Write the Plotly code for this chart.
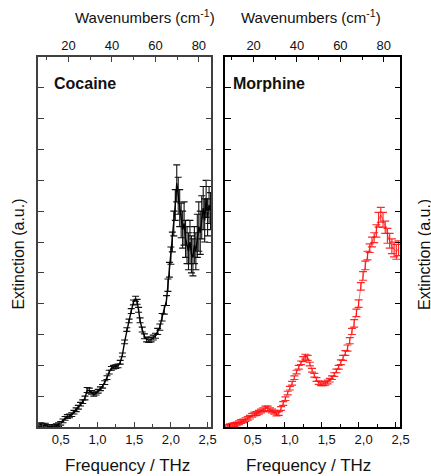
import plotly.graph_objects as go

# ---------------- data ----------------
cocaine_f = [0.20, 0.23, 0.26, 0.29, 0.32, 0.35, 0.38, 0.41, 0.44, 0.47,
             0.50, 0.53, 0.56, 0.59, 0.62, 0.65, 0.68, 0.71, 0.74, 0.77,
             0.80, 0.83, 0.86, 0.89, 0.92, 0.95, 0.98, 1.01, 1.04, 1.07,
             1.10, 1.13, 1.16, 1.19, 1.22, 1.25, 1.28, 1.31, 1.34, 1.37,
             1.40, 1.43, 1.46, 1.49, 1.52, 1.54, 1.56, 1.58, 1.61, 1.64,
             1.67, 1.70, 1.73, 1.76, 1.79, 1.82, 1.85, 1.88, 1.91, 1.94,
             1.96, 1.98, 2.00, 2.02, 2.04, 2.06, 2.08, 2.10, 2.12, 2.14,
             2.16, 2.18, 2.20, 2.22, 2.24, 2.26, 2.28, 2.30, 2.32, 2.34,
             2.36, 2.38, 2.40, 2.42, 2.44, 2.46, 2.48, 2.50, 2.52, 2.54]
cocaine_ext = [0.03, 0.04, 0.02, 0.03, 0.01, 0.00, 0.01, 0.01, 0.02, 0.04,
               0.06, 0.10, 0.14, 0.17, 0.18, 0.20, 0.24, 0.28, 0.32, 0.37,
               0.41, 0.47, 0.60, 0.59, 0.56, 0.53, 0.55, 0.58, 0.62, 0.66,
               0.72, 0.80, 0.89, 0.95, 0.97, 0.98, 0.99, 1.05, 1.17, 1.38,
               1.58, 1.72, 1.88, 2.02, 2.08, 2.03, 1.90, 1.73, 1.58, 1.47,
               1.42, 1.41, 1.42, 1.45, 1.48, 1.55, 1.62, 1.78, 1.90, 2.05,
               2.30, 2.55, 2.78, 3.00, 3.30, 3.60, 3.95, 3.75, 3.55, 3.35,
               3.20, 3.30, 3.05, 2.95, 2.85, 3.00, 2.80, 2.75, 2.95, 2.85,
               3.10, 3.25, 3.15, 3.40, 3.55, 3.35, 3.70, 3.40, 3.60, 3.50]
cocaine_err = [0.03, 0.03, 0.03, 0.03, 0.03, 0.03, 0.03, 0.03, 0.03, 0.03,
               0.03, 0.03, 0.03, 0.03, 0.03, 0.03, 0.03, 0.03, 0.03, 0.03,
               0.03, 0.03, 0.04, 0.04, 0.03, 0.03, 0.03, 0.03, 0.03, 0.03,
               0.03, 0.03, 0.03, 0.03, 0.03, 0.03, 0.03, 0.03, 0.03, 0.03,
               0.03, 0.03, 0.04, 0.04, 0.04, 0.04, 0.04, 0.04, 0.04, 0.04,
               0.04, 0.04, 0.04, 0.04, 0.04, 0.05, 0.05, 0.06, 0.07, 0.08,
               0.10, 0.12, 0.14, 0.16, 0.20, 0.25, 0.30, 0.30, 0.30, 0.28,
               0.30, 0.35, 0.30, 0.30, 0.30, 0.35, 0.30, 0.30, 0.30, 0.30,
               0.35, 0.40, 0.35, 0.35, 0.35, 0.35, 0.30, 0.30, 0.30, 0.30]

morphine_f = [0.20, 0.23, 0.26, 0.29, 0.32, 0.35, 0.38, 0.41, 0.44, 0.47,
              0.50, 0.53, 0.56, 0.59, 0.62, 0.65, 0.68, 0.71, 0.74, 0.77,
              0.80, 0.83, 0.86, 0.89, 0.92, 0.95, 0.98, 1.01, 1.04, 1.07,
              1.10, 1.13, 1.16, 1.19, 1.22, 1.25, 1.28, 1.31, 1.34, 1.37,
              1.40, 1.43, 1.46, 1.49, 1.52, 1.55, 1.58, 1.61, 1.64, 1.67,
              1.70, 1.73, 1.76, 1.79, 1.82, 1.85, 1.88, 1.91, 1.94, 1.97,
              2.00, 2.03, 2.06, 2.09, 2.12, 2.15, 2.18, 2.21, 2.24, 2.27,
              2.30, 2.33, 2.36, 2.39, 2.42, 2.45, 2.48, 2.51, 2.54]
morphine_ext = [0.00, 0.01, 0.02, 0.03, 0.04, 0.05, 0.07, 0.09, 0.10, 0.12,
                0.14, 0.16, 0.19, 0.21, 0.22, 0.24, 0.26, 0.28, 0.30, 0.30,
                0.28, 0.26, 0.24, 0.21, 0.22, 0.30, 0.38, 0.46, 0.55, 0.63,
                0.71, 0.80, 0.89, 0.97, 1.04, 1.10, 1.14, 1.12, 1.02, 0.92,
                0.84, 0.77, 0.72, 0.70, 0.70, 0.71, 0.73, 0.76, 0.80, 0.85,
                0.91, 0.97, 1.05, 1.12, 1.20, 1.28, 1.40, 1.55, 1.68, 1.85,
                2.00, 2.28, 2.45, 2.62, 2.78, 2.90, 3.00, 3.07, 3.18, 3.36,
                3.44, 3.36, 3.24, 3.10, 3.02, 2.93, 2.88, 2.84, 2.90]
morphine_err = [0.03, 0.03, 0.03, 0.03, 0.03, 0.03, 0.03, 0.03, 0.03, 0.03,
                0.03, 0.03, 0.03, 0.03, 0.03, 0.03, 0.03, 0.03, 0.04, 0.04,
                0.03, 0.03, 0.03, 0.03, 0.03, 0.03, 0.03, 0.03, 0.03, 0.03,
                0.03, 0.03, 0.03, 0.03, 0.03, 0.04, 0.04, 0.04, 0.03, 0.03,
                0.03, 0.03, 0.03, 0.03, 0.03, 0.03, 0.03, 0.03, 0.03, 0.03,
                0.03, 0.03, 0.04, 0.04, 0.04, 0.05, 0.05, 0.05, 0.06, 0.06,
                0.06, 0.06, 0.07, 0.07, 0.07, 0.07, 0.08, 0.08, 0.10, 0.12,
                0.12, 0.12, 0.10, 0.12, 0.12, 0.12, 0.12, 0.12, 0.12]

THZ_TO_CM = 33.356

x_ticks_thz = [0.5, 1.0, 1.5, 2.0, 2.5]
x_ticklabels_thz = ["0,5", "1,0", "1,5", "2,0", "2,5"]
x_ticks_cm = [20, 40, 60, 80]

# ---------------- layout geometry ----------------
W, H = 431, 476
def px(x):
    return x / W
def py(y):
    return 1 - y / H

ydom = [py(427), py(57)]
FONT = "Arial, 'Liberation Sans', sans-serif"
TXT = "#111111"

fig = go.Figure()

fig.add_trace(go.Scatter(
    x=cocaine_f, y=cocaine_ext, xaxis="x", yaxis="y", mode="lines",
    line=dict(color="black", width=1.4),
    error_y=dict(type="data", array=cocaine_err, color="#111111", thickness=1.1, width=3.5),
    hoverinfo="skip", showlegend=False))
fig.add_trace(go.Scatter(
    x=[f * THZ_TO_CM for f in cocaine_f], y=cocaine_ext, xaxis="x2", yaxis="y",
    mode="markers", marker=dict(opacity=0), hoverinfo="skip", showlegend=False))

fig.add_trace(go.Scatter(
    x=morphine_f, y=morphine_ext, xaxis="x3", yaxis="y2", mode="lines",
    line=dict(color="rgba(255,0,0,0.55)", width=1),
    error_y=dict(type="data", array=morphine_err, color="rgba(255,20,20,0.9)",
                 thickness=1.2, width=4),
    hoverinfo="skip", showlegend=False))
fig.add_trace(go.Scatter(
    x=[f * THZ_TO_CM for f in morphine_f], y=morphine_ext, xaxis="x4", yaxis="y2",
    mode="markers", marker=dict(opacity=0), hoverinfo="skip", showlegend=False))


def xbottom(dom, rng, color, anchor, shift=0):
    return dict(domain=dom, range=rng, anchor=anchor, showline=True, linecolor=color,
                linewidth=1.6, mirror=False, ticks="inside", ticklen=5, tickwidth=1.2,
                tickcolor=color, tickvals=x_ticks_thz, ticktext=x_ticklabels_thz,
                minor=dict(dtick=0.25, tick0=0, ticks="inside", ticklen=3,
                           tickcolor=color, tickwidth=1.1),
                showgrid=False, zeroline=False, ticklabelshift=shift,
                tickfont=dict(family=FONT, size=13, color=TXT), fixedrange=True)


def xtop(rng, color, over, anchor):
    return dict(range=rng, overlaying=over, side="top", anchor=anchor, showline=True,
                linecolor=color, linewidth=1.6, ticks="inside", ticklen=5, tickwidth=1.2,
                tickcolor=color, tickvals=x_ticks_cm,
                minor=dict(dtick=10, tick0=0, ticks="inside", ticklen=3,
                           tickcolor=color, tickwidth=1.1),
                showgrid=False, zeroline=False,
                tickfont=dict(family=FONT, size=13, color=TXT), fixedrange=True)


def yax(color, anchor):
    return dict(domain=ydom, range=[0, 6], anchor=anchor, showline=True, linecolor=color,
                linewidth=1.6, mirror="allticks", ticks="inside", ticklen=6, tickwidth=1.2,
                tickcolor=color, dtick=1, tick0=0, showticklabels=False,
                minor=dict(dtick=0.5, tick0=0, ticks="inside", ticklen=3,
                           tickcolor=color, tickwidth=1.1),
                showgrid=False, zeroline=False, fixedrange=True)


left_col = "#404040"
right_col = "#000000"

fig.update_layout(
    width=W, height=H, autosize=False,
    margin=dict(l=0, r=0, t=0, b=0),
    paper_bgcolor="white", plot_bgcolor="white",
    separators=",.",
    showlegend=False,
    xaxis=xbottom([px(39), px(216)], [0.193, 2.553], left_col, "y"),
    xaxis2=xtop([6.1, 85.8], left_col, "x", "y"),
    yaxis=yax(left_col, "x"),
    xaxis3=xbottom([px(230), px(409)], [0.195, 2.566], right_col, "y2", shift=5),
    xaxis4=xtop([6.9, 87.7], right_col, "x3", "y2"),
    yaxis2=yax(right_col, "x3"),
)

ann = []
def add_text(text, x, y, size, bold=False, xanchor="center", angle=0):
    ann.append(dict(text=f"<b>{text}</b>" if bold else text, x=px(x), y=py(y),
                    xref="paper", yref="paper", xanchor=xanchor, yanchor="middle",
                    showarrow=False, textangle=angle,
                    font=dict(family=FONT, size=size, color=TXT)))

add_text("Wavenumbers (cm<sup>-1</sup>)", 148, 17, 15)
add_text("Wavenumbers (cm<sup>-1</sup>)", 318, 17, 15)
add_text("Cocaine", 53, 83, 16, bold=True, xanchor="left")
add_text("Morphine", 236, 83, 16, bold=True, xanchor="left")
add_text("Frequency / THz", 130, 465, 17)
add_text("Frequency / THz", 315, 465, 17)
add_text("Extinction (a.u.)", 18, 254, 16, angle=-90)
add_text("Extinction (a.u.)", 433, 254, 16, angle=-90)

fig.update_layout(annotations=ann)

fig.write_html("out.html")
